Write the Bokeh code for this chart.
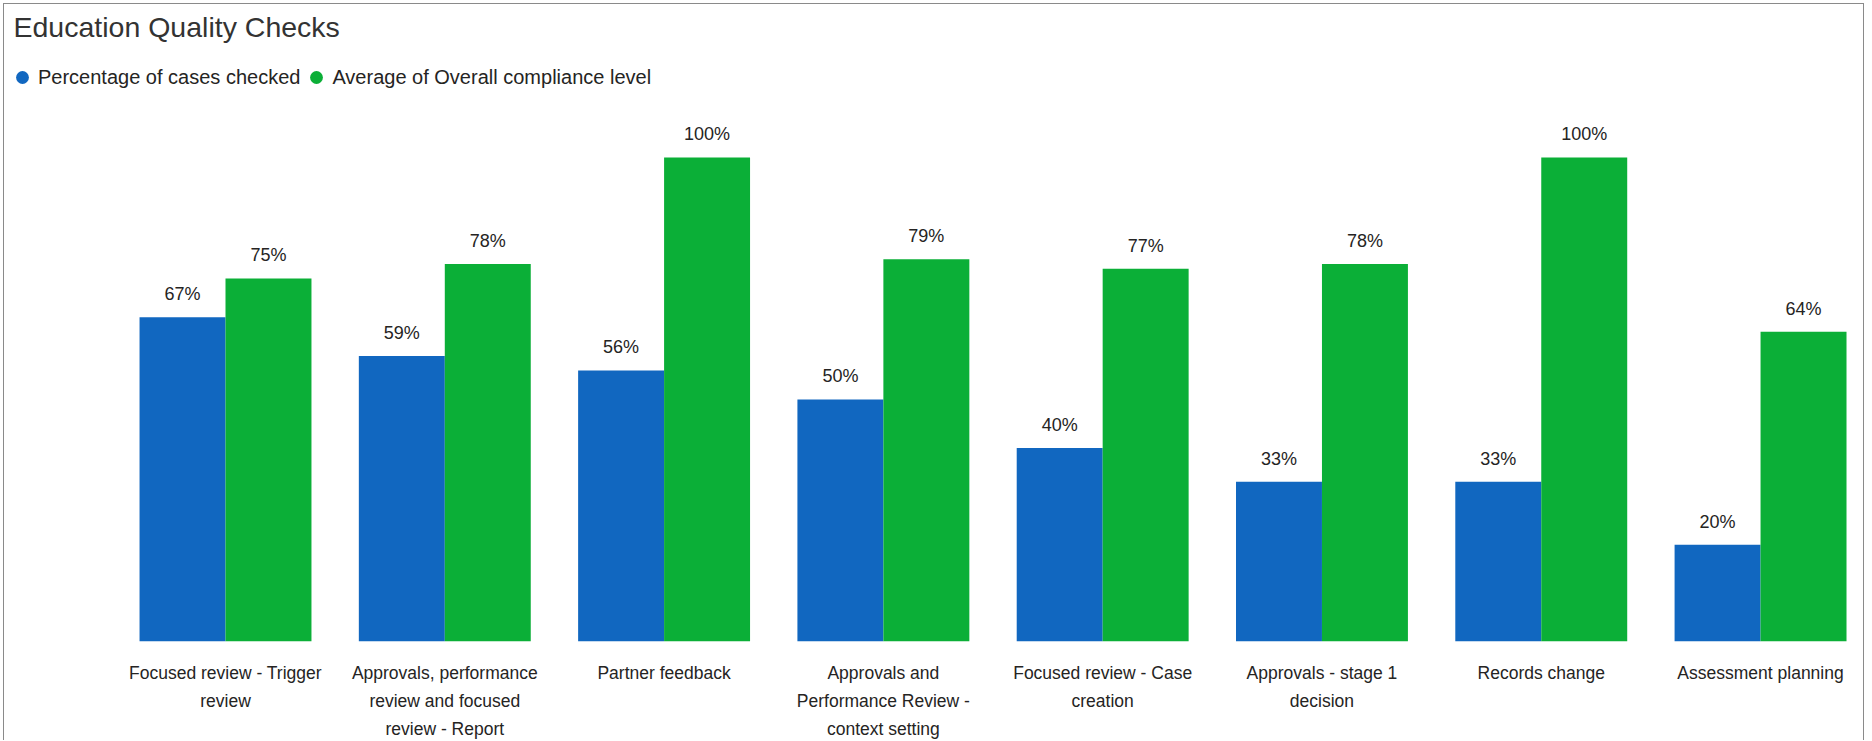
from bokeh.plotting import figure
from bokeh.models import ColumnDataSource, Range1d, FixedTicker, Legend, LegendItem
from bokeh.core.properties import value
from bokeh.embed import file_html
from bokeh.resources import INLINE

categories = [
    "Focused review - Trigger\nreview",
    "Approvals, performance\nreview and focused\nreview - Report",
    "Partner feedback",
    "Approvals and\nPerformance Review -\ncontext setting",
    "Focused review - Case\ncreation",
    "Approvals - stage 1\ndecision",
    "Records change",
    "Assessment planning",
]
pct_cases_checked = [67, 59, 56, 50, 40, 33, 33, 20]
avg_compliance = [75, 78, 100, 79, 77, 78, 100, 64]
series_names = ["Percentage of cases checked", "Average of Overall compliance level"]

BLUE = "#1167C0"
GREEN = "#0BAF37"
FONT = "Liberation Sans, Arial, sans-serif"

W, H = 1861, 737
bw = 0.392
pos = list(range(len(categories)))

p = figure(width=W, height=H, output_backend="svg", toolbar_location=None,
           x_range=Range1d(-1.0078, 7.433), y_range=Range1d(0, 123.76),
           min_border_left=0, min_border_right=10, min_border_top=38, min_border_bottom=96)
p.styles = {"border-left": "1px solid #8a8a8a", "border-top": "1px solid #8a8a8a",
            "border-right": "1px solid #8a8a8a", "margin-left": "3px", "margin-top": "3px"}

src = ColumnDataSource(dict(
    xb=[x - bw / 2 for x in pos], xg=[x + bw / 2 for x in pos],
    b=pct_cases_checked, g=avg_compliance,
    bl=[f"{v}%" for v in pct_cases_checked], gl=[f"{v}%" for v in avg_compliance],
))
p.vbar(x="xb", top="b", width=bw, bottom=0, source=src, fill_color=BLUE, line_color=None)
p.vbar(x="xg", top="g", width=bw, bottom=0, source=src, fill_color=GREEN, line_color=None)

for xc, yc, tc in (("xb", "b", "bl"), ("xg", "g", "gl")):
    p.text(x=xc, y=yc, text=tc, source=src, text_align="center", text_baseline="alphabetic",
           y_offset=-23, text_font=value(FONT), text_font_size="18px", text_color="#252423")

# legend proxies (placed below the visible range, only their legend glyphs show)
r1 = p.scatter(x=pos[:1], y=[-1000], marker="circle", size=15, fill_color=BLUE, line_color=None)
r2 = p.scatter(x=pos[:1], y=[-1000], marker="circle", size=15, fill_color=GREEN, line_color=None)
legend = Legend(items=[LegendItem(label=series_names[0], renderers=[r1]),
                       LegendItem(label=series_names[1], renderers=[r2])],
                location=(2, 548), orientation="horizontal", margin=0, padding=0,
                spacing=0, label_standoff=0, glyph_width=32, glyph_height=32,
                label_text_font=FONT, label_text_font_size="20px", label_text_color="#252423",
                border_line_color=None, background_fill_alpha=0)
p.add_layout(legend)

p.title.text = "Education Quality Checks"
p.title.text_font = FONT
p.title.text_font_size = "28.5px"
p.title.text_line_height = 1.0
p.title.text_font_style = "normal"
p.title.text_color = "#333333"
p.title.offset = 9
p.title.standoff = 0

p.xaxis.ticker = FixedTicker(ticks=pos)
p.xaxis.major_label_overrides = {i: c for i, c in enumerate(categories)}
p.xaxis.major_label_text_font = FONT
p.xaxis.major_label_text_font_size = "17.5px"
p.xaxis.major_label_text_line_height = 1.4
p.xaxis.major_label_text_color = "#252423"
p.xaxis.axis_line_color = None
p.xaxis.major_tick_line_color = None
p.xaxis.minor_tick_line_color = None
p.xaxis.major_tick_out = 0
p.xaxis.major_tick_in = 0
p.xaxis.major_label_standoff = 21
p.yaxis.visible = False
p.grid.visible = False
p.outline_line_color = None

open("out.html", "w").write(file_html(p, INLINE))
